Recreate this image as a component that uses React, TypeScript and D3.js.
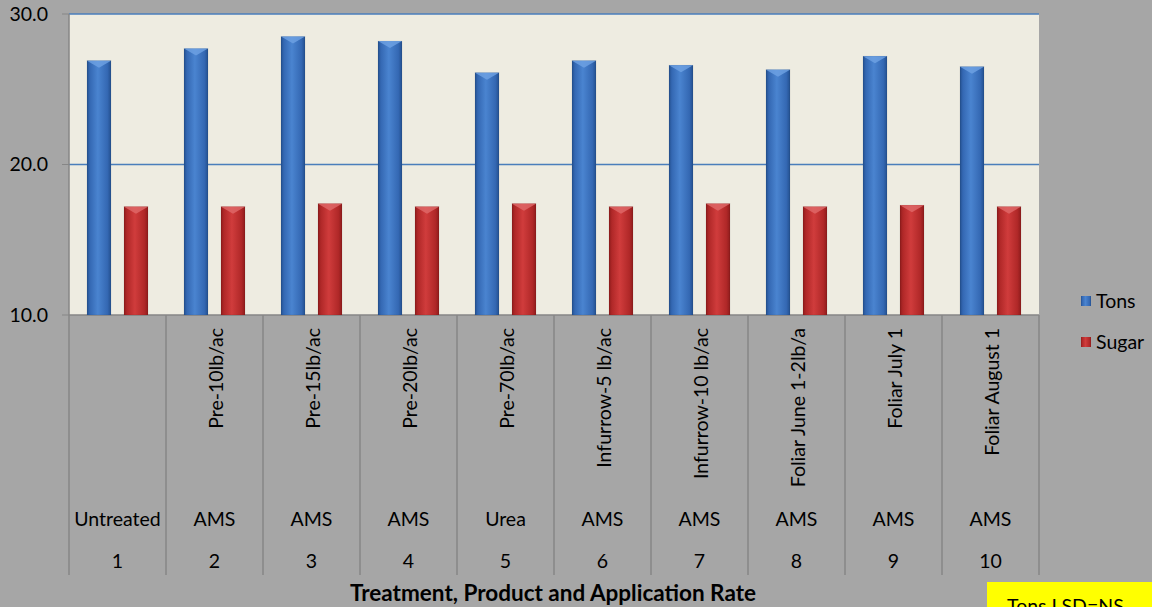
import React from "react";
import * as d3 from "d3";

const treatments = ["1", "2", "3", "4", "5", "6", "7", "8", "9", "10"];
const products = ["Untreated", "AMS", "AMS", "AMS", "Urea", "AMS", "AMS", "AMS", "AMS", "AMS"];
const rates = ["", "Pre-10lb/ac", "Pre-15lb/ac", "Pre-20lb/ac", "Pre-70lb/ac", "Infurrow-5 lb/ac", "Infurrow-10 lb/ac", "Foliar June 1-2lb/a", "Foliar July 1", "Foliar August 1"];
const tons = [26.9, 27.7, 28.5, 28.2, 26.1, 26.9, 26.6, 26.3, 27.2, 26.5];
const sugar = [17.2, 17.2, 17.4, 17.2, 17.4, 17.2, 17.4, 17.2, 17.3, 17.2];
const yTicks = [10, 20, 30];
const seriesNames = ["Tons", "Sugar"];

const W = 1152, H = 607;
const left = 69, right = 1039, top = 14, bottom = 315;
const font = "Lato, 'Open Sans', sans-serif";
const fs = 19.5;

export default function App() {
  const x = d3.scaleBand<string>().domain(treatments).range([left, right]).padding(0);
  const y = d3.scaleLinear().domain([10, 30]).range([bottom, top]);
  const barW = 24;
  const off = 18.5;
  const series = [
    { name: seriesNames[0], values: tons, grad: "gBlue", cap: "#6fa3e3", dx: -off },
    { name: seriesNames[1], values: sugar, grad: "gRed", cap: "#e06a6a", dx: off },
  ];
  return (
    <svg width={W} height={H} style={{ position: "absolute", left: 0, top: 0 }}>
      <defs>
        <linearGradient id="gBlue" x1="0" x2="1" y1="0" y2="0">
          <stop offset="0" stopColor="#24508f" />
          <stop offset="0.12" stopColor="#3468b3" />
          <stop offset="0.45" stopColor="#4a84d0" />
          <stop offset="0.85" stopColor="#3468b3" />
          <stop offset="1" stopColor="#24508f" />
        </linearGradient>
        <linearGradient id="gRed" x1="0" x2="1" y1="0" y2="0">
          <stop offset="0" stopColor="#8e1c1c" />
          <stop offset="0.12" stopColor="#b02828" />
          <stop offset="0.45" stopColor="#d03c3c" />
          <stop offset="0.85" stopColor="#b02828" />
          <stop offset="1" stopColor="#8e1c1c" />
        </linearGradient>
      </defs>
      <rect x={0} y={0} width={W} height={H} fill="#a6a6a6" />
      <rect x={left} y={top} width={right - left} height={bottom - top} fill="#eeece1" />
      {yTicks.map((t) => (
        <g key={t}>
          {t !== 10 && (
            <line x1={left} x2={right} y1={y(t)} y2={y(t)} stroke="#4a7ebb" strokeWidth={1.5} />
          )}
          <line x1={62} x2={left} y1={y(t)} y2={y(t)} stroke="#868686" strokeWidth={1} />
          <text x={48} y={y(t)} dy="0.35em" textAnchor="end" fontFamily={font} fontSize={fs} fill="#000">
            {t.toFixed(1)}
          </text>
        </g>
      ))}
      <line x1={left} x2={left} y1={top} y2={575} stroke="#868686" strokeWidth={1.5} />
      <line x1={left} x2={right} y1={bottom} y2={bottom} stroke="#868686" strokeWidth={1.5} />
      {treatments.map((t) => (
        <line key={"sep" + t} x1={(x(t) as number) + x.bandwidth()} x2={(x(t) as number) + x.bandwidth()} y1={bottom} y2={575} stroke="#868686" strokeWidth={1.5} />
      ))}
      {series.map((s) =>
        s.values.map((v, i) => {
          const cx = (x(treatments[i]) as number) + x.bandwidth() / 2 + s.dx;
          const x0 = cx - barW / 2;
          const yt = y(v);
          return (
            <g key={s.name + i}>
              <rect x={x0} y={yt} width={barW} height={bottom - yt} fill={`url(#${s.grad})`} stroke="rgba(0,0,0,0.15)" strokeWidth={0.5} />
              <path d={`M${x0},${yt} L${x0 + barW},${yt} L${cx},${yt + 7} Z`} fill={s.cap} opacity={0.8} />
            </g>
          );
        })
      )}
      {treatments.map((t, i) => {
        const cx = (x(t) as number) + x.bandwidth() / 2;
        return (
          <g key={"lab" + t}>
            {rates[i] && (
              <text transform={`translate(${cx + 8},328) rotate(-90)`} textAnchor="end" fontFamily={font} fontSize={fs} fill="#000">
                {rates[i]}
              </text>
            )}
            <text x={cx} y={519} dy="0.35em" textAnchor="middle" fontFamily={font} fontSize={fs} fill="#000">{products[i]}</text>
            <text x={cx} y={561} dy="0.35em" textAnchor="middle" fontFamily={font} fontSize={fs} fill="#000">{t}</text>
          </g>
        );
      })}
      <text x={553} y={593} dy="0.35em" textAnchor="middle" fontFamily={font} fontSize={22.5} fontWeight="bold" fill="#000">
        Treatment, Product and Application Rate
      </text>
      {series.map((s, i) => (
        <g key={"leg" + s.name}>
          <rect x={1081} y={296 + i * 41} width={10} height={10} fill={`url(#${s.grad})`} />
          <text x={1096} y={301 + i * 41} dy="0.35em" fontFamily={font} fontSize={fs} fill="#000">{s.name}</text>
        </g>
      ))}
      <rect x={987} y={582} width={170} height={30} fill="#ffff00" />
      <text x={1007} y={613} fontFamily={font} fontSize={fs} fill="#000">Tons LSD=NS</text>
    </svg>
  );
}
